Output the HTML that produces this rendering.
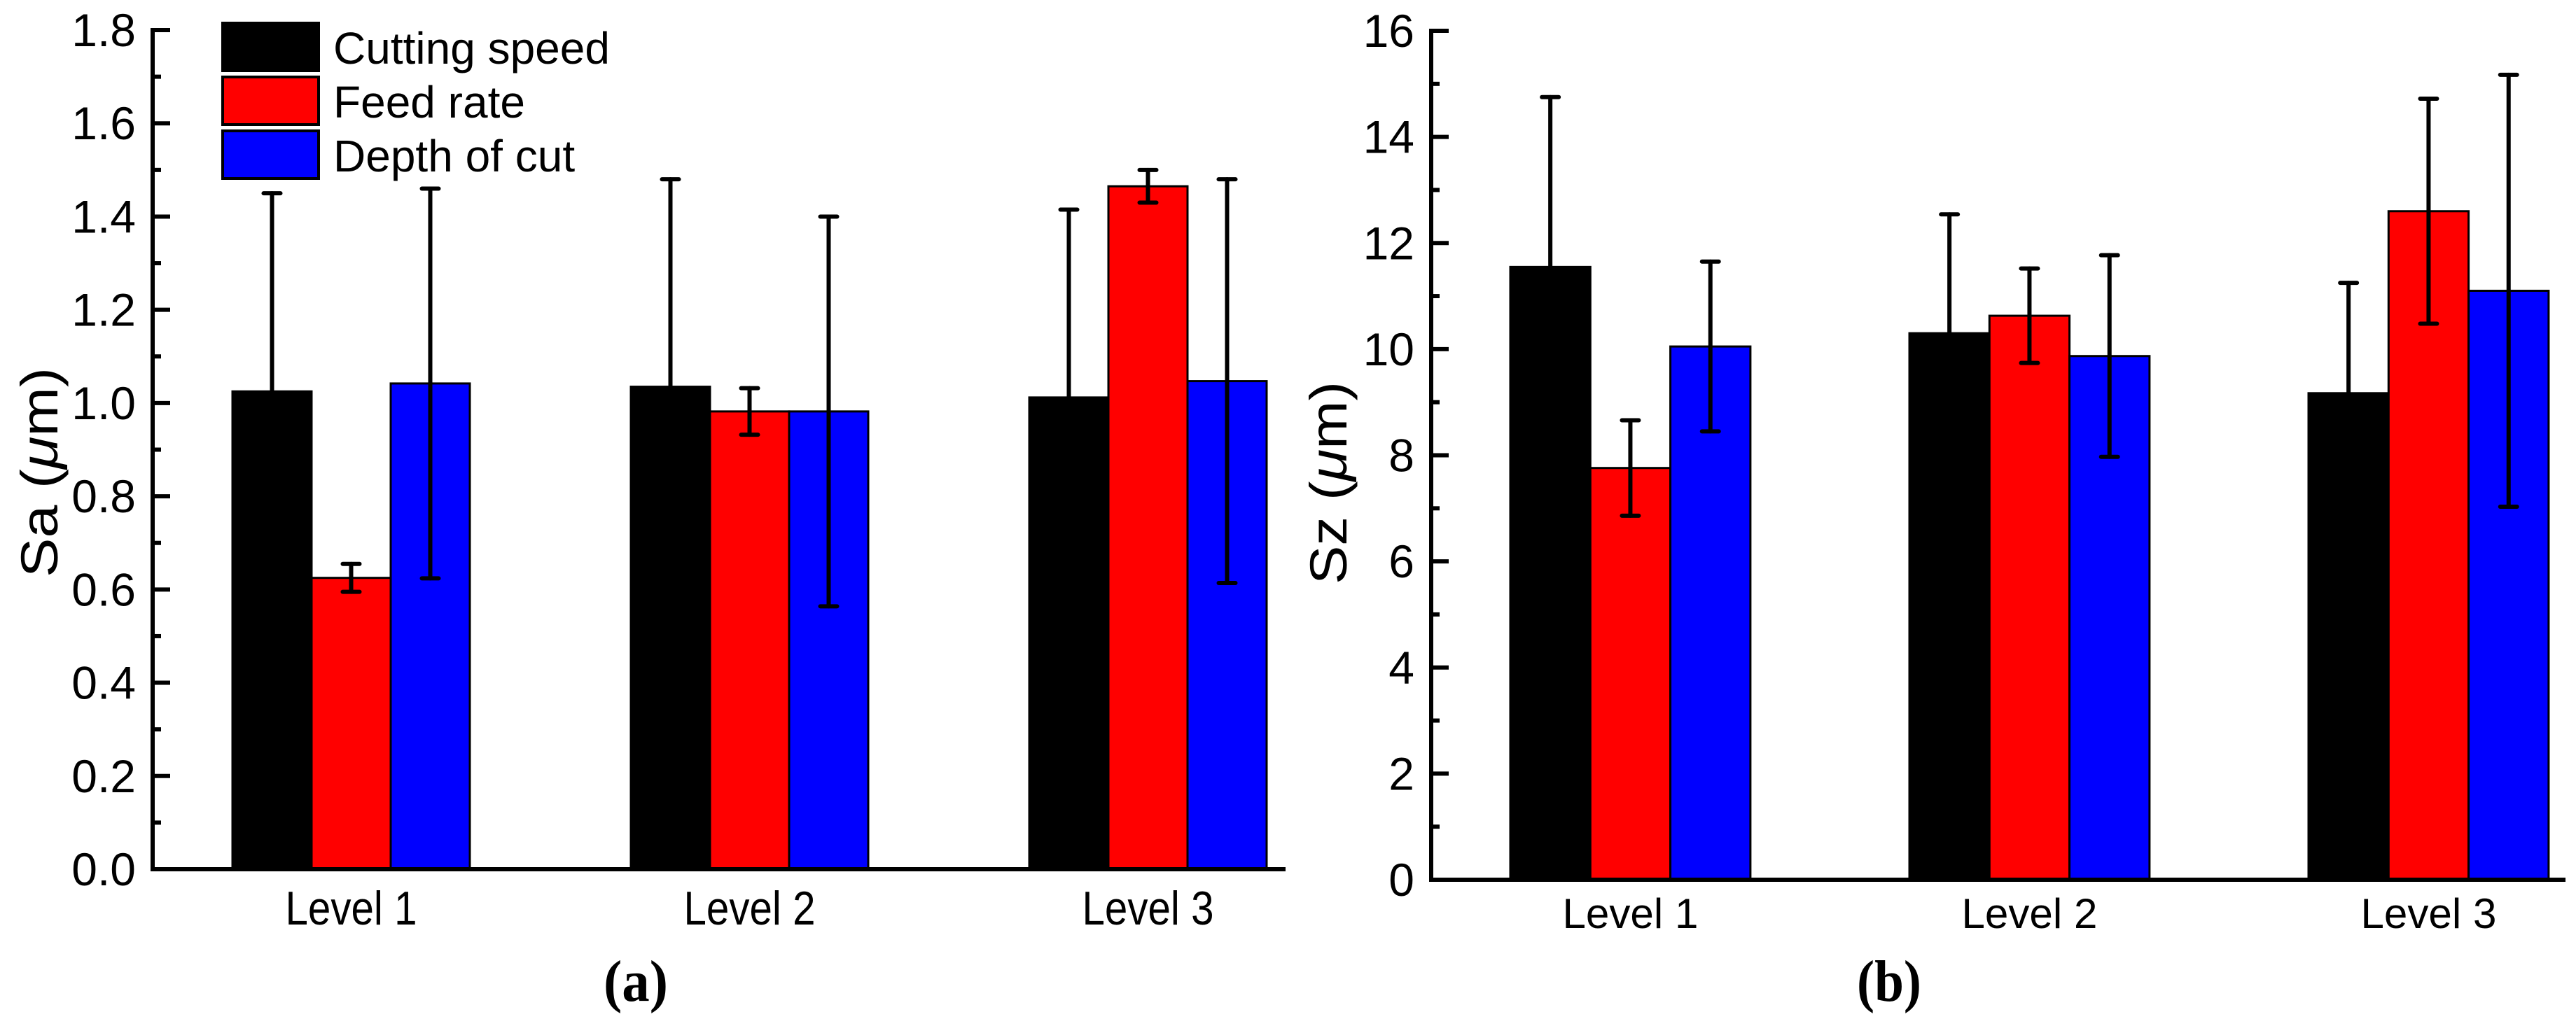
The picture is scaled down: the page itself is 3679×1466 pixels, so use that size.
<!DOCTYPE html>
<html><head><meta charset="utf-8"><style>
html,body{margin:0;padding:0;background:#fff;}
svg{display:block;}
text{font-family:"Liberation Sans",Arial,sans-serif;fill:#000;}
</style></head><body>
<svg id="fig" width="3679" height="1466" viewBox="0 0 3679 1466" xmlns="http://www.w3.org/2000/svg"></svg>
<script>
// ---- data ----
const categories = ["Level 1", "Level 2", "Level 3"];
const seriesNames = ["Cutting speed", "Feed rate", "Depth of cut"];
const seriesColors = ["#000000", "#ff0000", "#0000ff"];
// Panel (a): Sa (um)
const saCutting = [1.025, 1.035, 1.012];
const saFeed = [0.625, 0.982, 1.465];
const saDepth = [1.042, 0.982, 1.047];
const saCuttingErr = [0.425, 0.445, 0.403];
const saFeedErr = [0.030, 0.050, 0.035];
const saDepthErr = [0.418, 0.418, 0.433];
const saTicks = ["0.0","0.2","0.4","0.6","0.8","1.0","1.2","1.4","1.6","1.8"];
// Panel (b): Sz (um)
const szCutting = [11.55, 10.30, 9.17];
const szFeed = [7.76, 10.63, 12.60];
const szDepth = [10.05, 9.87, 11.10];
const szCuttingErr = [3.20, 2.24, 2.08];
const szFeedErr = [0.90, 0.89, 2.12];
const szDepthErr = [1.60, 1.90, 4.07];
const szTicks = ["0","2","4","6","8","10","12","14","16"];

const NS = "http://www.w3.org/2000/svg";
const svg = document.getElementById("fig");
function mk(tag, attrs, parent) {
  const e = document.createElementNS(NS, tag);
  for (const k in attrs) e.setAttribute(k, attrs[k]);
  (parent || svg).appendChild(e);
  return e;
}

function panel(cfg) {
  const g = mk("g", {});
  
  
  const yMax = cfg.yMax;
  const y = v => cfg.y0 - v / yMax * (cfg.y0 - cfg.yTop);
  const groupX = i => cfg.firstBarX + i * cfg.spacing;
  const bw = cfg.barW;
  const series = [cfg.values[0], cfg.values[1], cfg.values[2]];
  const errs = [cfg.errs[0], cfg.errs[1], cfg.errs[2]];
  for (let i = 0; i < categories.length; i++) {
    for (let s = 0; s < 3; s++) {
      const x = groupX(i) + s * bw;
      const r = mk("rect", {x: x, y: y(series[s][i]), width: bw, height: cfg.y0 - y(series[s][i]),
        fill: seriesColors[s], stroke: "#000", "stroke-width": 3}, g);
      
      
    }
  }
  for (let i = 0; i < categories.length; i++) {
    for (let s = 0; s < 3; s++) {
      const cx = groupX(i) + s * bw + bw / 2;
      const top = y(series[s][i] + errs[s][i]);
      const bot = y(series[s][i] - errs[s][i]);
      const eg = mk("g", {stroke: "#000", "stroke-width": 6, "stroke-linecap": "round"}, g);
      
      
      mk("line", {x1: cx, x2: cx, y1: top, y2: bot}, eg);
      mk("line", {x1: cx - 12, x2: cx + 12, y1: top, y2: top}, eg);
      mk("line", {x1: cx - 12, x2: cx + 12, y1: bot, y2: bot}, eg);
    }
  }
  const ax = mk("g", {stroke: "#000", "stroke-width": 6, fill: "none"}, g);
  
  
  mk("path", {d: `M${cfg.axisX},${cfg.yTop} V${cfg.y0} H${cfg.axisEnd}`, "stroke-linecap": "square"}, ax);
  const n = cfg.ticks.length;
  for (let k = 0; k < n; k++) {
    const v = k * cfg.step;
    mk("line", {x1: cfg.axisX, x2: cfg.axisX + 25, y1: y(v), y2: y(v)}, ax);
    if (k < n - 1) {
      const vm = v + cfg.step / 2;
      mk("line", {x1: cfg.axisX, x2: cfg.axisX + 12, y1: y(vm), y2: y(vm)}, ax);
    }
    const t = mk("text", {x: cfg.axisX - 24, y: y(v) + 23, "font-size": 66, "text-anchor": "end"}, g);
    t.textContent = cfg.ticks[k];
    
    
  }
  for (let i = 0; i < categories.length; i++) {
    const cx = groupX(i) + 1.5 * bw;
    const t = mk("text", {x: cx, y: cfg.catY, "font-size": cfg.catSize, "text-anchor": "middle",
      textLength: cfg.catLen, lengthAdjust: "spacingAndGlyphs"}, g);
    t.textContent = categories[i];
    
    
  }
  const yt = mk("text", {transform: `translate(${cfg.ylabX},${cfg.ylabY}) rotate(-90)`, "font-size": 74, "text-anchor": "middle",
    textLength: cfg.ylabLen, lengthAdjust: "spacingAndGlyphs"}, g);
  yt.innerHTML = cfg.ylab + ' (<tspan font-style="italic">μ</tspan>m)';
  
  
  const pl = mk("text", {x: cfg.plX, y: 1430, "font-size": 84, "font-weight": "bold", "text-anchor": "middle",
    textLength: 92, lengthAdjust: "spacingAndGlyphs", style: 'font-family:"Liberation Serif",serif'}, g);
  pl.innerHTML = '(' + cfg.panel + ')';
  
  
}

panel({name: "sa-chart", panel: "a", yMax: 1.8, step: 0.2, ticks: saTicks, y0: 1242, yTop: 43,
  axisX: 218, axisEnd: 1833, firstBarX: 332, spacing: 569, barW: 113,
  values: [saCutting, saFeed, saDepth], errs: [saCuttingErr, saFeedErr, saDepthErr],
  catY: 1321, catSize: 68, catLen: 188, ylab: "Sa", ylabX: 82, ylabY: 675, ylabLen: 300, plX: 908});
panel({name: "sz-chart", panel: "b", yMax: 16, step: 2, ticks: szTicks, y0: 1257, yTop: 44,
  axisX: 2044, axisEnd: 3661, firstBarX: 2157, spacing: 570, barW: 114.3,
  values: [szCutting, szFeed, szDepth], errs: [szCuttingErr, szFeedErr, szDepthErr],
  catY: 1326, catSize: 60, catLen: 194, ylab: "Sz", ylabX: 1923, ylabY: 690, ylabLen: 290, plX: 2698});

const lg = mk("g", {});


const boxTops = [33, 110, 187];
for (let s = 0; s < 3; s++) {
  const r = mk("rect", {x: 318, y: boxTops[s], width: 137, height: 68, fill: seriesColors[s], stroke: "#000", "stroke-width": 4}, lg);
  
  
  const t = mk("text", {x: 476, y: boxTops[s] + 58, "font-size": 64}, lg);
  t.textContent = seriesNames[s];
  
  
}
</script>
</body></html>
